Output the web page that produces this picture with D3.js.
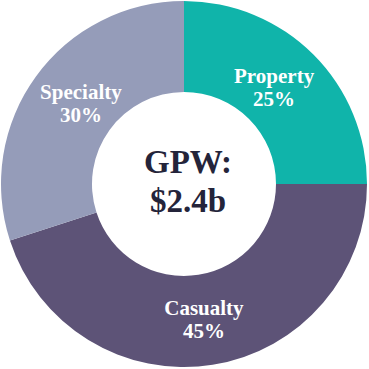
<!DOCTYPE html>
<html>
<head>
<meta charset="utf-8">
<script src="https://cdn.jsdelivr.net/npm/d3@7"></script>
<style>
  html, body { margin: 0; padding: 0; background: #fff; }
  svg text { font-family: "Liberation Serif", "Times New Roman", serif; font-weight: bold; }
</style>
</head>
<body>
<div id="chart"></div>
<script>
// Data
const categories = ["Property", "Casualty", "Specialty"];
const shares = [25, 45, 30];
const colors = ["#10b4aa", "#5d5377", "#959cb9"];
const centerLines = ["GPW:", "$2.4b"];

const width = 369, height = 369;
const cx = 184, cy = 184;
const outerR = 183, innerR = 92;

const svg = d3.select("#chart").append("svg")
  .attr("width", width)
  .attr("height", height);

const g = svg.append("g").attr("transform", `translate(${cx},${cy})`);

const pie = d3.pie().sort(null).value((d) => d.value);
const arcs = pie(categories.map((c, i) => ({ name: c, value: shares[i], color: colors[i] })));

const arc = d3.arc().innerRadius(innerR).outerRadius(outerR);
const labelArc = d3.arc().innerRadius(137).outerRadius(137);

// Slices
g.selectAll("path.slice")
  .data(arcs)
  .join("path")
  .attr("class", "slice")
  .attr("d", arc)
  .attr("fill", (d) => d.data.color);

// Slice labels (name + percent), pulled in a little horizontally
const labels = g.selectAll("text.label")
  .data(arcs)
  .join("text")
  .attr("class", "label")
  .attr("transform", (d) => {
    const [x, y] = labelArc.centroid(d);
    return `translate(${x * 0.93},${y})`;
  })
  .attr("text-anchor", "middle")
  .attr("fill", "#ffffff")
  .style("font-size", "21px");

labels.append("tspan")
  .attr("x", 0)
  .attr("dy", "-0.2em")
  .text((d) => d.data.name);

labels.append("tspan")
  .attr("x", 0)
  .attr("dy", "1.1em")
  .text((d) => d.data.value + "%");

// Center text
const center = g.append("text")
  .attr("text-anchor", "middle")
  .attr("fill", "#24243a")
  .style("font-size", "33px");

center.selectAll("tspan")
  .data(centerLines)
  .join("tspan")
  .attr("x", 4)
  .attr("y", (d, i) => -11 + i * 39)
  .text((d) => d);
</script>
</body>
</html>
